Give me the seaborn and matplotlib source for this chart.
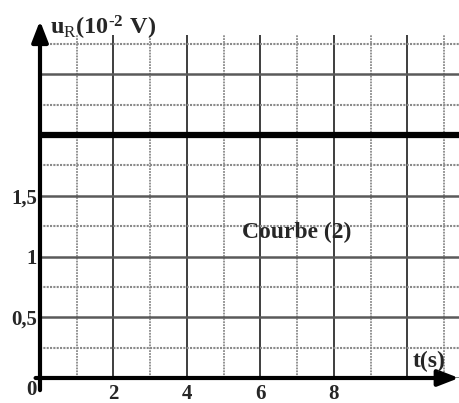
import matplotlib
matplotlib.use("Agg")
import matplotlib.pyplot as plt
import seaborn as sns
import pandas as pd

# Measured resistor voltage (in 10^-2 V) versus time (s)
t_values = [0.0, 11.5]
u_r_values = [2.0, 2.0]

x_major = [0, 2, 4, 6, 8, 10]
x_major_labels = ["", "2", "4", "6", "8", ""]
x_minor = [1, 3, 5, 7, 9, 11]
y_major = [0.0, 0.5, 1.0, 1.5, 2.0, 2.5]
y_major_labels = ["", "0,5", "1", "1,5", "", ""]
y_minor = [0.25, 0.75, 1.25, 1.75, 2.25, 2.75]

sns.set_theme(style="white")
plt.rcParams["font.family"] = ["Liberation Serif", "DejaVu Serif"]
plt.rcParams["font.weight"] = "bold"
plt.rcParams["mathtext.fontset"] = "custom"
plt.rcParams["mathtext.rm"] = "Liberation Serif:regular"
plt.rcParams["mathtext.it"] = "Liberation Serif:bold"
plt.rcParams["mathtext.bf"] = "Liberation Serif:bold"

W, H = 460, 403
fig = plt.figure(figsize=(W / 100, H / 100), dpi=100)
fig.patch.set_facecolor("white")

# axes: origin at pixel (40, 378), 36.75 px per second, 121.5 px per unit
x0, y0, top = 40, 378, 35
ax = fig.add_axes([x0 / W, (H - y0) / H, (W - x0) / W, (y0 - top) / H])
ax.set_facecolor("white")
ax.set_xlim(0, (W - x0) / 36.75)
ax.set_ylim(0, (y0 - top) / 121.5)

df = pd.DataFrame({"t": t_values, "u": u_r_values})
sns.lineplot(data=df, x="t", y="u", ax=ax, color="black", linewidth=4.5, zorder=5)

ax.set_xticks(x_major)
ax.set_xticklabels(x_major_labels)
ax.set_xticks(x_minor, minor=True)
ax.set_yticks(y_major)
ax.set_yticklabels(y_major_labels)
ax.set_yticks(y_minor, minor=True)

ax.xaxis.grid(True, which="major", color="#1e1e1e", lw=1.2, ls="-")
ax.xaxis.grid(True, which="minor", color="#8a8a8a", lw=1.3, ls=(0, (1, 0.6)))
ax.yaxis.grid(True, which="major", color="#5a5a5a", lw=1.8, ls="-")
ax.yaxis.grid(True, which="minor", color="#8a8a8a", lw=1.5, ls=(0, (1, 0.6)))
ax.set_axisbelow(True)

ax.tick_params(axis="both", which="both", length=0)
ax.tick_params(axis="x", pad=4, labelsize=15)
ax.tick_params(axis="y", pad=2, labelsize=15)
for lab in ax.get_xticklabels() + ax.get_yticklabels():
    lab.set_fontweight("bold")
ax.set_xlabel("")
ax.set_ylabel("")
for s in ax.spines.values():
    s.set_visible(False)

# axis arrows
arrow = dict(arrowstyle="-|>,head_length=0.9,head_width=0.35", lw=3,
             color="black", shrinkA=0, shrinkB=0, mutation_scale=14)
ax.annotate("", xy=(11.4, 0), xytext=(-0.12, 0), arrowprops=arrow,
            annotation_clip=False, zorder=6)
ax.annotate("", xy=(0, 2.94), xytext=(0, -0.1), arrowprops=arrow,
            annotation_clip=False, zorder=6)

ax.text(-0.08, -0.015, "0", ha="right", va="top", fontsize=15,
        fontweight="bold", clip_on=False)
ax.text(0.27, 2.83, "$\\mathbf{u}_{\\mathrm{R}}\\mathbf{(10^{\u2010 2}\\ V)}$",
        ha="left", va="baseline", fontsize=17.5, clip_on=False)
ax.text(10.15, 0.09, "t(s)", ha="left", va="baseline", fontsize=17,
        fontweight="bold", zorder=7)
ax.text(5.5, 1.2, "Courbe (2)", ha="left", va="center", fontsize=17,
        fontweight="bold", zorder=7)

fig.savefig("out.png", dpi=100, facecolor="white")
